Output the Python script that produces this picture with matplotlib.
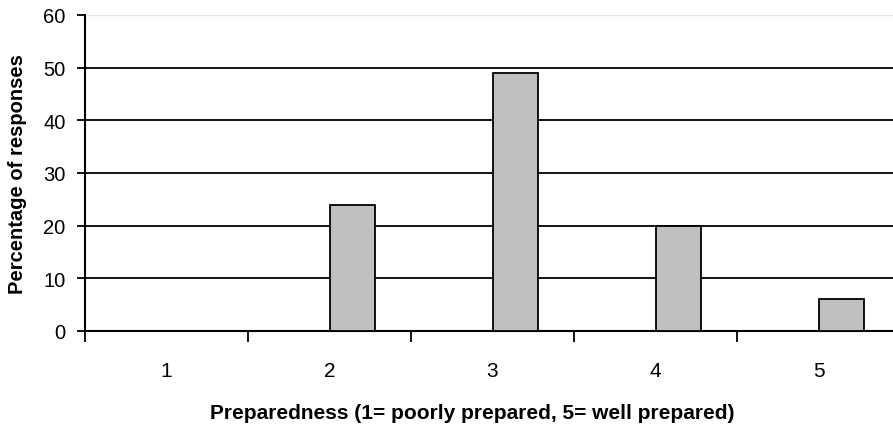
import numpy as np
import matplotlib.pyplot as plt

plt.rcParams['font.family'] = ['Liberation Sans', 'DejaVu Sans']

categories = ['1', '2', '3', '4', '5']
values = [0, 24, 49, 20, 6]
y_ticks = [0, 10, 20, 30, 40, 50, 60]

fig = plt.figure(figsize=(8.93, 4.27), dpi=100)
ax = fig.add_axes([85 / 893, 1 - 332 / 427, 1 - 85 / 893, (332 - 16) / 427])

x = np.arange(1, len(categories) + 1)
bw = 0.28
for xi, v in zip(x, values):
    if v > 0:
        ax.bar(xi, v, width=bw, align='edge', color='#c0c0c0', edgecolor='black', lw=1.3, zorder=3)

for yt in y_ticks[1:-1]:
    ax.axhline(yt, color='black', lw=1.3, zorder=1)
ax.axhline(60, color='#e8e8e8', lw=1, zorder=1)

ax.set_xlim(0.5, 0.5 + (893 - 85) / 163)
ax.set_ylim(0, 60)
ax.set_yticks(y_ticks)
ax.set_yticklabels([str(t) for t in y_ticks], fontsize=14.5)
ax.set_xticks(np.arange(0.5, 5.5, 1.0))
ax.set_xticklabels([])
ax.set_xticks(x, minor=True)
ax.set_xticklabels(categories, minor=True, fontsize=15)
ax.tick_params(axis='x', which='major', length=8, width=1.3, direction='out')
ax.tick_params(axis='x', which='minor', length=0, pad=21.5)
ax.tick_params(axis='y', length=6, width=1.3, pad=8)

for s in ['top', 'right']:
    ax.spines[s].set_visible(False)
ax.spines['left'].set_linewidth(1.5)
ax.spines['bottom'].set_linewidth(1.5)

ax.set_ylabel('Percentage of responses', fontsize=14.5, fontweight='bold', labelpad=12)
ax.set_xlabel('Preparedness (1= poorly prepared, 5= well prepared)', fontsize=15,
              fontweight='bold')
ax.xaxis.set_label_coords((472 - 85) / 808, -(404 - 332) / 316)

fig.savefig('out.png', dpi=100)
